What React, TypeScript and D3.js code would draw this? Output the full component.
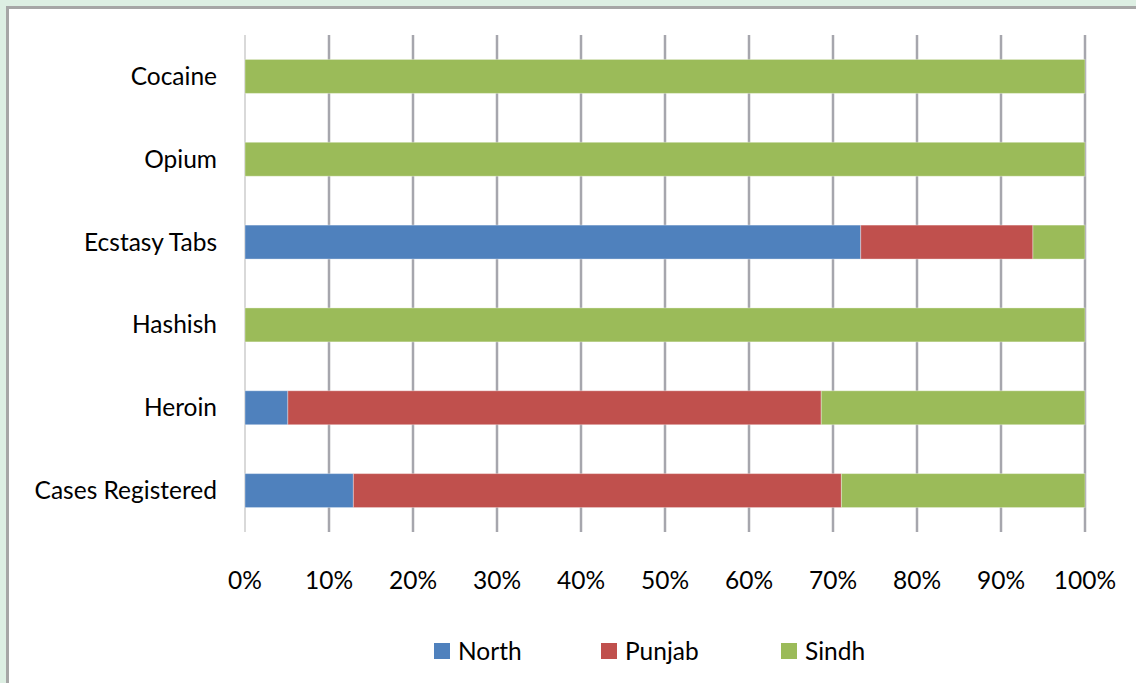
import React from 'react';
import * as d3 from 'd3';

const categories = ['Cocaine', 'Opium', 'Ecstasy Tabs', 'Hashish', 'Heroin', 'Cases Registered'];
const seriesNames = ['North', 'Punjab', 'Sindh'];
const north = [0, 0, 73.3, 0, 5.1, 12.9];
const punjab = [0, 0, 20.5, 0, 63.5, 58.1];
const sindh = [100, 100, 6.2, 100, 31.4, 29.0];
const colors = ['#4f81bd', '#c0504d', '#9bbb59'];
const ticks = [0, 10, 20, 30, 40, 50, 60, 70, 80, 90, 100];

const W = 1136;
const H = 683;
const FONT = 'Lato, "Open Sans", sans-serif';
const FS = 24.5;

const App = () => {
  const x = d3.scaleLinear().domain([0, 100]).range([245, 1085]);
  const y = d3.scaleBand().domain(categories).range([35, 532]).paddingInner(0.59).paddingOuter(0.295);

  const rows = categories.map((c, i) => ({ cat: c, North: north[i], Punjab: punjab[i], Sindh: sindh[i] }));
  const stacked = d3.stack<any>().keys(seriesNames)(rows);

  // legend layout
  const legendX = [434, 601, 781];

  return (
    <div style={{ position: 'fixed', left: 0, top: 0 }}>
      <svg width={W} height={H} style={{ display: 'block' }}>
        <rect x={0} y={0} width={W} height={H} fill="#ddefe3" />
        <rect x={7.5} y={7.5} width={W + 20} height={H + 20} fill="#ffffff" stroke="#a6a6a6" strokeWidth={3} />

        {/* gridlines */}
        {ticks.map(t => (
          <line key={t} x1={x(t)} x2={x(t)} y1={35} y2={532}
            stroke={t === 0 ? '#d9d9d9' : '#a6a6ad'} strokeWidth={t === 0 ? 2 : 2.5} />
        ))}

        {/* bars */}
        {stacked.map((s, si) => (
          <g key={s.key} fill={colors[si]}>
            {s.map((d, i) => {
              const w = x(d[1]) - x(d[0]);
              if (w <= 0) return null;
              return (
                <rect key={i} x={x(d[0])} y={y(categories[i])} width={w} height={y.bandwidth()}
                  stroke="#ffffff" strokeOpacity={0.35} strokeWidth={1} />
              );
            })}
          </g>
        ))}

        {/* category labels */}
        {categories.map(c => (
          <text key={c} x={217} y={(y(c) as number) + y.bandwidth() / 2} dy="0.35em" textAnchor="end"
            fontFamily={FONT} fontSize={FS} fill="#000">{c}</text>
        ))}

        {/* tick labels */}
        {ticks.map(t => (
          <text key={t} x={x(t)} y={580} dy="0.35em" textAnchor="middle"
            fontFamily={FONT} fontSize={FS} fill="#000">{t}%</text>
        ))}

        {/* legend */}
        {seriesNames.map((n, i) => (
          <g key={n}>
            <rect x={legendX[i]} y={643} width={16} height={16} fill={colors[i]} />
            <text x={legendX[i] + 24} y={651} dy="0.35em" fontFamily={FONT} fontSize={FS} fill="#000">{n}</text>
          </g>
        ))}
      </svg>
    </div>
  );
};

export default App;
